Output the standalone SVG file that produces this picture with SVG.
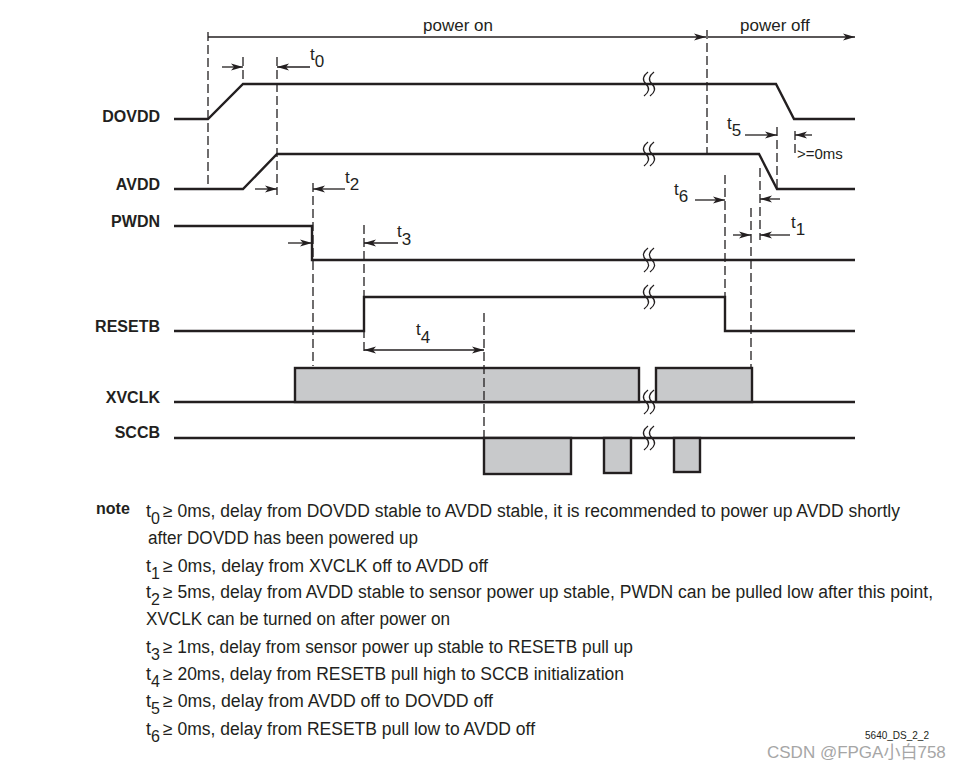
<svg xmlns="http://www.w3.org/2000/svg" width="967" height="772" viewBox="0 0 967 772">
<style>
.sig{fill:none;stroke:#231f20;stroke-width:2.4;stroke-linejoin:miter}
.box{fill:#c8c9cb;stroke:#231f20;stroke-width:2.4}
.dash{fill:none;stroke:#231f20;stroke-width:1.3;stroke-dasharray:9 4}
.arr{fill:none;stroke:#231f20;stroke-width:1.3;marker-end:url(#ah)}
.brk{fill:none;stroke:#231f20;stroke-width:1.3}
.name{font-family:"Liberation Sans",Arial,sans-serif;font-weight:bold;font-size:16px;fill:#231f20;text-anchor:end}
.lbl{font-family:"Liberation Sans",Arial,sans-serif;font-size:17px;fill:#231f20}
.note{font-family:"Liberation Sans",Arial,sans-serif;font-size:18px;fill:#231f20}
.sub{font-size:16px}
</style>
<defs>
<marker id="ah" viewBox="0 -4 12 8" markerWidth="12" markerHeight="8" refX="12" refY="0" orient="auto-start-reverse" markerUnits="userSpaceOnUse">
<path d="M0,-3.5 L12,0 L0,3.5 L3,0 z" fill="#231f20"/>
</marker>
<g id="sq">
<path class="brk" d="M-1,-12 Q-9,-6 -3,0 Q3,6 -5,12"/>
<path class="brk" d="M5,-12 Q-3,-6 3,0 Q9,6 1,12"/>
</g>
</defs>
<rect width="967" height="772" fill="#fff"/>

<g id="sig-dovdd">
<text class="name" x="160" y="122">DOVDD</text>
<path class="sig" d="M174,119 H208 L243,84 H776 L794,119 H855"/>
<use href="#sq" x="649" y="84"/>
</g>
<g id="sig-avdd">
<text class="name" x="160" y="190">AVDD</text>
<path class="sig" d="M174,189 H243 L277,154 H759 L777,189 H855"/>
<use href="#sq" x="649" y="154"/>
</g>
<g id="sig-pwdn">
<text class="name" x="160" y="227">PWDN</text>
<path class="sig" d="M174,226 H312 V260 H855"/>
<use href="#sq" x="649" y="260"/>
</g>
<g id="sig-resetb">
<text class="name" x="160" y="332">RESETB</text>
<path class="sig" d="M174,331 H364 V297 H725 V331 H855"/>
<use href="#sq" x="649" y="297"/>
</g>
<g id="sig-xvclk">
<text class="name" x="160" y="403">XVCLK</text>
<path class="sig" d="M174,402 H855"/>
<rect class="box" x="295" y="368" width="344" height="34"/>
<rect class="box" x="656" y="368" width="96" height="34"/>
<use href="#sq" x="649" y="402"/>
</g>
<g id="sig-sccb">
<text class="name" x="160" y="438">SCCB</text>
<path class="sig" d="M174,438 H855"/>
<rect class="box" x="484" y="438" width="87" height="36"/>
<rect class="box" x="604" y="438" width="27" height="35"/>
<rect class="box" x="674" y="438" width="26" height="34"/>
<use href="#sq" x="649" y="438"/>
</g>

<g id="connectors">
<line class="dash" x1="208" y1="32" x2="208" y2="187"/>
<line class="dash" x1="243" y1="57" x2="243" y2="84"/>
<line class="dash" x1="277" y1="57" x2="277" y2="195"/>
<line class="dash" x1="313" y1="183" x2="313" y2="366"/>
<line class="dash" x1="364" y1="225" x2="364" y2="355"/>
<line class="dash" x1="484" y1="313" x2="484" y2="438"/>
<line class="dash" x1="707" y1="30" x2="707" y2="154"/>
<line class="dash" x1="777" y1="127" x2="777" y2="189"/>
<line class="dash" x1="795" y1="131" x2="795" y2="155"/>
<line class="dash" x1="725" y1="175" x2="725" y2="297"/>
<line class="dash" x1="751" y1="208" x2="751" y2="368"/>
<line class="dash" x1="760" y1="168" x2="760" y2="240"/>

<line class="arr" x1="208" y1="37" x2="706" y2="37"/>
<line class="arr" x1="708" y1="37" x2="855" y2="37"/>
<line class="arr" x1="222" y1="67" x2="243" y2="67"/>
<line class="arr" x1="310" y1="67" x2="277" y2="67"/>
<line class="arr" x1="255" y1="189" x2="277" y2="189"/>
<line class="arr" x1="345" y1="189" x2="313" y2="189"/>
<line class="arr" x1="288" y1="243" x2="312" y2="243"/>
<line class="arr" x1="398" y1="243" x2="364" y2="243"/>
<line class="arr" x1="364" y1="350" x2="484" y2="350" style="marker-start:url(#ah)"/>
<line class="arr" x1="745" y1="135" x2="777" y2="135"/>
<line class="arr" x1="812" y1="135" x2="795" y2="135"/>
<line class="arr" x1="695" y1="200" x2="725" y2="200"/>
<line class="arr" x1="780" y1="199" x2="760" y2="199"/>
<line class="arr" x1="733" y1="235" x2="751" y2="235"/>
<line class="arr" x1="790" y1="235" x2="760" y2="235"/>
</g>

<g id="labels">
<text class="lbl" x="423" y="31">power on</text>
<text class="lbl" x="740" y="31">power off</text>
<text class="lbl" x="310" y="60">t<tspan dy="7">0</tspan></text>
<text class="lbl" x="345" y="183">t<tspan dy="7">2</tspan></text>
<text class="lbl" x="397" y="237">t<tspan dy="8">3</tspan></text>
<text class="lbl" x="416" y="335">t<tspan dy="8">4</tspan></text>
<text class="lbl" x="727" y="129">t<tspan dy="7">5</tspan></text>
<text class="lbl" x="674" y="195">t<tspan dy="7">6</tspan></text>
<text class="lbl" x="791" y="228">t<tspan dy="7">1</tspan></text>
<text class="lbl" x="797" y="159" style="font-size:15px">&gt;=0ms</text>
</g>

<g id="notes">
<text class="name" x="96" y="514" style="text-anchor:start">note</text>
<text class="note" x="146" y="517">t<tspan class="sub" dy="7">0</tspan></text>
<text class="note" x="163" y="517" textLength="737" lengthAdjust="spacingAndGlyphs">≥ 0ms, delay from DOVDD stable to AVDD stable, it is recommended to power up AVDD shortly</text>
<text class="note" x="148" y="544" textLength="270" lengthAdjust="spacingAndGlyphs">after DOVDD has been powered up</text>
<text class="note" x="146" y="572">t<tspan class="sub" dy="7">1</tspan></text>
<text class="note" x="163" y="572" textLength="325" lengthAdjust="spacingAndGlyphs">≥ 0ms, delay from XVCLK off to AVDD off</text>
<text class="note" x="146" y="598">t<tspan class="sub" dy="7">2</tspan></text>
<text class="note" x="163" y="598" textLength="770" lengthAdjust="spacingAndGlyphs">≥ 5ms, delay from AVDD stable to sensor power up stable, PWDN can be pulled low after this point,</text>
<text class="note" x="146" y="625" textLength="304" lengthAdjust="spacingAndGlyphs">XVCLK can be turned on after power on</text>
<text class="note" x="146" y="653">t<tspan class="sub" dy="7">3</tspan></text>
<text class="note" x="163" y="653" textLength="470" lengthAdjust="spacingAndGlyphs">≥ 1ms, delay from sensor power up stable to RESETB pull up</text>
<text class="note" x="146" y="680">t<tspan class="sub" dy="7">4</tspan></text>
<text class="note" x="163" y="680" textLength="461" lengthAdjust="spacingAndGlyphs">≥ 20ms, delay from RESETB pull high to SCCB initialization</text>
<text class="note" x="146" y="707">t<tspan class="sub" dy="7">5</tspan></text>
<text class="note" x="163" y="707" textLength="330" lengthAdjust="spacingAndGlyphs">≥ 0ms, delay from AVDD off to DOVDD off</text>
<text class="note" x="146" y="735">t<tspan class="sub" dy="7">6</tspan></text>
<text class="note" x="163" y="735" textLength="372" lengthAdjust="spacingAndGlyphs">≥ 0ms, delay from RESETB pull low to AVDD off</text>
<text x="865" y="739" style="font-family:'Liberation Sans',Arial,sans-serif;font-size:11px;fill:#231f20" textLength="64" lengthAdjust="spacingAndGlyphs">5640_DS_2_2</text>
<text x="767" y="758" style="font-family:'Liberation Sans','Noto Sans CJK SC',sans-serif;font-size:17px;fill:#a6a6a6">CSDN @FPGA小白758</text>
</g>
</svg>
